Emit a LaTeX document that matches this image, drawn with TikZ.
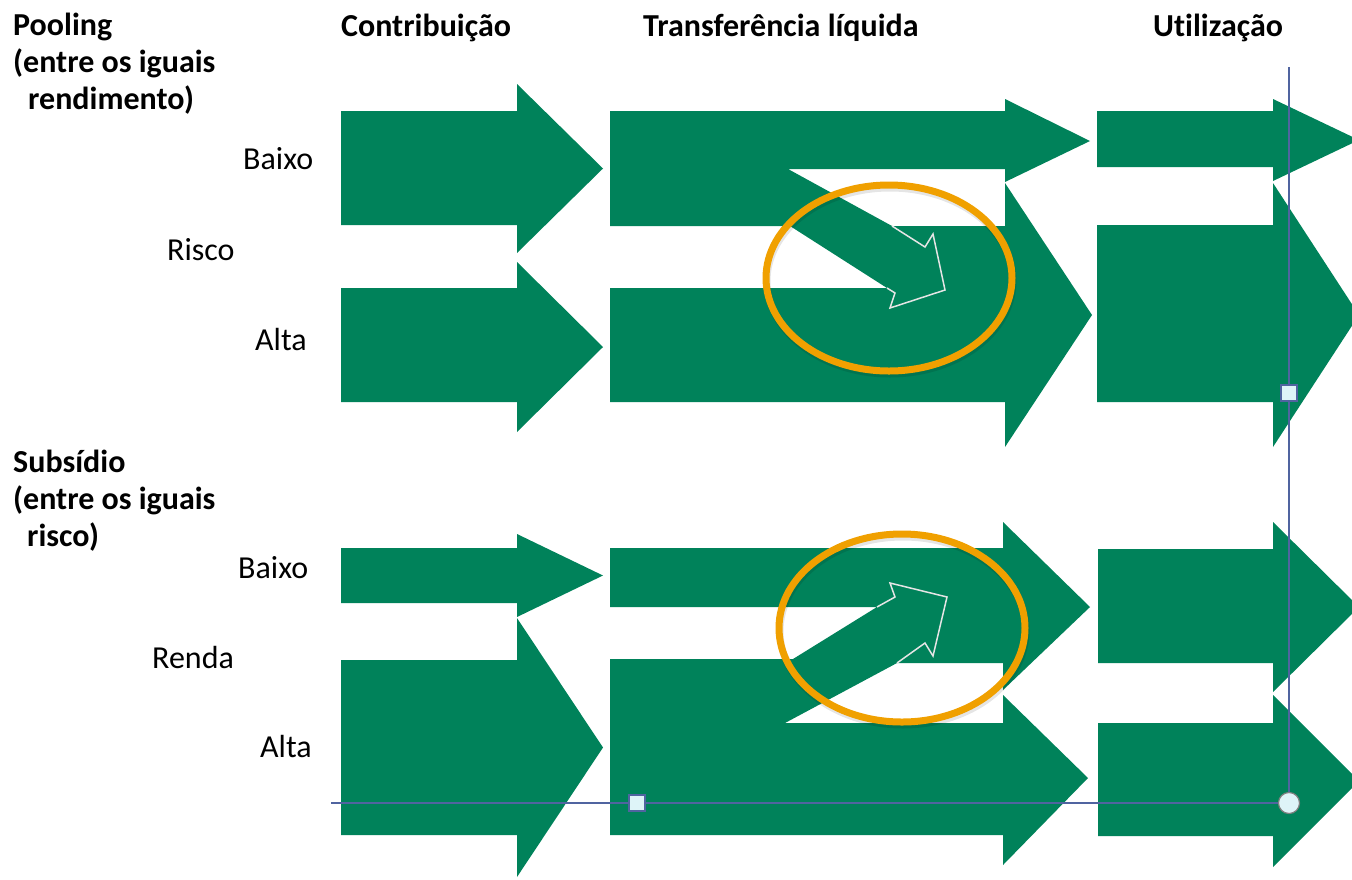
\documentclass[tikz,border=0pt]{standalone}
\usepackage{fontspec}
\setmainfont[Ligatures={NoCommon}]{Carlito}
\usepackage{tikz}
\usetikzlibrary{calc}

\definecolor{verde}{RGB}{0,130,90}
\definecolor{laranja}{RGB}{240,160,0}
\definecolor{azulguia}{RGB}{80,100,160}
\definecolor{alca}{RGB}{222,244,248}

\begin{document}
\begin{tikzpicture}[
            x=1pt, y=-1pt,
            seta/.style={fill=verde},
            contorno/.style={draw=white!80!gray, line width=1.5pt, line join=miter},
            destaque/.style={draw=laranja, line width=7pt},
            sombra/.style={draw=black, opacity=0.1, line width=7pt},
            guia/.style={draw=azulguia, line width=1.3pt},
            marca/.style={draw=azulguia, fill=alca, minimum size=16pt, inner sep=0pt, line width=1.2pt},
            rotulo/.style={font=\fontsize{32}{38}\selectfont, inner sep=0pt},
            titulo/.style={font=\bfseries\fontsize{32}{37}\selectfont, inner sep=0pt},
        ]
            \path[use as bounding box] (0,0) rectangle (1352,879);

            % --- Titulos das colunas ---
            \node[titulo, anchor=base west] (contrib) at (341,36) {Contribuição};
            \node[titulo, anchor=base west] (transf) at (643,36) {Transferência líquida};
            \node[titulo, anchor=base west] (util) at (1153,36) {Utilização};

            % --- Titulos dos grupos ---
            \node[titulo, anchor=north west, align=left] (pooling) at (13,13)
                {Pooling\\(entre os iguais\\\hspace*{15pt}rendimento)};
            \node[titulo, anchor=north west, align=left] (subsidio) at (13,450)
                {Subsídio\\(entre os iguais\\\hspace*{14pt}risco)};

            % --- Rotulos das linhas ---
            \foreach \nome/\x/\y/\texto in {baixoA/243/169/Baixo, risco/167/260/Risco,
                    altaA/255/350/Alta, baixoB/238/578/Baixo, renda/152/668/Renda, altaB/260/757/Alta} {
                \node[rotulo, anchor=base west] (\nome) at (\x,\y) {\texto};
            }

            \begin{scope}
                \clip (0,0) rectangle (1352,879);

                % --- Setas de contribuicao e utilizacao ---
                \foreach \xo/\xi/\yt/\yb/\ya/\yz in {341/517/111/225/84/253, 341/517/288/402/262/432,
                        1097/1273/111/167/99/181, 1097/1273/225/402/183/447,
                        341/517/548/603/534/617, 341/517/660/835/618/877,
                        1098/1273/549/663/522/692, 1098/1273/723/836/695/867} {
                    \fill[seta] (\xo,\yt) -- (\xi,\yt) -- (\xi,\ya) -- ({\xi+86},{(\ya+\yz)/2})
                        -- (\xi,\yz) -- (\xi,\yb) -- (\xo,\yb) -- cycle;
                }

                % --- Transferencia (pooling) ---
                \fill[seta] (610,111) -- (1005,111) -- (1005,99) -- (1090,141) -- (1005,182)
                    -- (1005,169) -- (788,169) -- (892,226) -- (1005,226) -- (1005,183)
                    -- (1092,315) -- (1005,447) -- (1005,402) -- (610,402) -- (610,288)
                    -- (887,288) -- (790,226) -- (610,226) -- cycle;
                \draw[contorno] (892,226) -- (925,247) -- (933,234) -- (945,290)
                    -- (890,308) -- (895,293) -- (887,288);

                % --- Transferencia (subsidio) ---
                \fill[seta] (610,548) -- (1003,548) -- (1003,522) -- (1090,607) -- (1003,690)
                    -- (1003,663) -- (897,663) -- (785,723) -- (1003,723) -- (1003,695)
                    -- (1088,778) -- (1003,865) -- (1003,835) -- (610,835) -- (610,659)
                    -- (793,659) -- (877,607) -- (610,607) -- cycle;
                \draw[contorno] (877,607) -- (895,597) -- (890,583) -- (947,597)
                    -- (933,656) -- (925,643) -- (897,663);
            \end{scope}

            % --- Destaques ---
            \draw[sombra] (890,281) ellipse [x radius=123pt, y radius=93pt];
            \draw[destaque] (889,278) ellipse [x radius=123pt, y radius=93pt];
            \draw[sombra] (903,631) ellipse [x radius=123pt, y radius=94pt];
            \draw[destaque] (902,628) ellipse [x radius=123pt, y radius=94pt];

            % --- Guias ---
            \coordinate (guiaE) at (331,803);
            \coordinate (guiaN) at (1289,67);
            \node[marca] (marcaA) at (637,803) {};
            \node[marca] (marcaB) at (1289,393) {};
            \node[marca, circle, draw=gray, minimum size=21pt] (alcaC) at (1289,803) {};
            \draw[guia] (guiaE) -- (marcaA) -- (alcaC) -- (marcaB) -- (guiaN);
        \end{tikzpicture}
\end{document}
